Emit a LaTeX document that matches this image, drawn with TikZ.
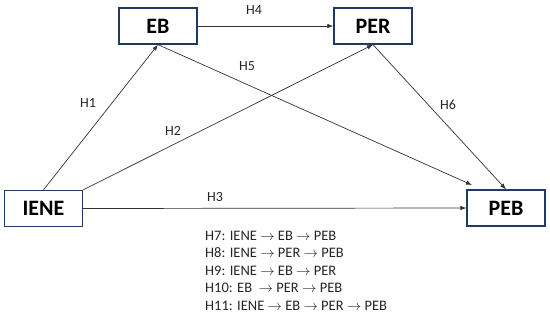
\documentclass[tikz,border=0pt]{standalone}
\usepackage{fontspec}
\setmainfont{Carlito}
\usetikzlibrary{arrows.meta}
\definecolor{boxblue}{HTML}{1F3864}
\definecolor{linegray}{HTML}{333333}
\tikzset{
  vbox/.style={draw=boxblue, line width=1.3pt, minimum width=78pt, minimum height=36pt, inner sep=0pt, font=\fontsize{22}{24}\selectfont\bfseries},
  conn/.style={draw=linegray, line width=0.7pt, -{Latex[length=6pt,width=4.5pt]}},
  hlab/.style={font=\fontsize{14}{16}\selectfont, text=black!85, inner sep=0pt},
  listtxt/.style={font=\fontsize{14.5}{17.4}\selectfont, text=black!85, align=left, anchor=north west, inner sep=0pt}
}
\begin{document}
\begin{tikzpicture}[x=1pt,y=-1pt]
\useasboundingbox (0,0) rectangle (550,317);
\node[vbox] (EB) at (158,26) {EB};
\node[vbox] (PER) at (373,26) {PER};
\node[vbox] (IENE) at (43.5,208.5) {IENE};
\node[vbox] (PEB) at (506,208) {PEB};
\coordinate (h5end) at (472,185);
\draw[conn] (IENE.north) -- (EB.south);
\draw[conn] (IENE.north east) -- (PER.south);
\draw[conn] (IENE.east) -- (PEB.west);
\draw[conn] (EB.east) -- (PER.west);
\draw[conn] (EB.south) -- (h5end);
\draw[conn] (PER.south) -- (PEB.north);
\node[hlab] (l1) at (88,103) {H1};
\node[hlab] (l2) at (173,131) {H2};
\node[hlab] (l3) at (215,197) {H3};
\node[hlab] (l4) at (254,10) {H4};
\node[hlab] (l5) at (247,66) {H5};
\node[hlab] (l6) at (448,105) {H6};
\node[listtxt] (list) at (205,231) {H7: IENE $\rightarrow$ EB $\rightarrow$ PEB\\
H8: IENE $\rightarrow$ PER $\rightarrow$ PEB\\
H9: IENE $\rightarrow$ EB $\rightarrow$ PER\\
H10: EB \ $\rightarrow$ PER $\rightarrow$ PEB\\
H11: IENE $\rightarrow$ EB $\rightarrow$ PER $\rightarrow$ PEB};
\end{tikzpicture}
\end{document}
